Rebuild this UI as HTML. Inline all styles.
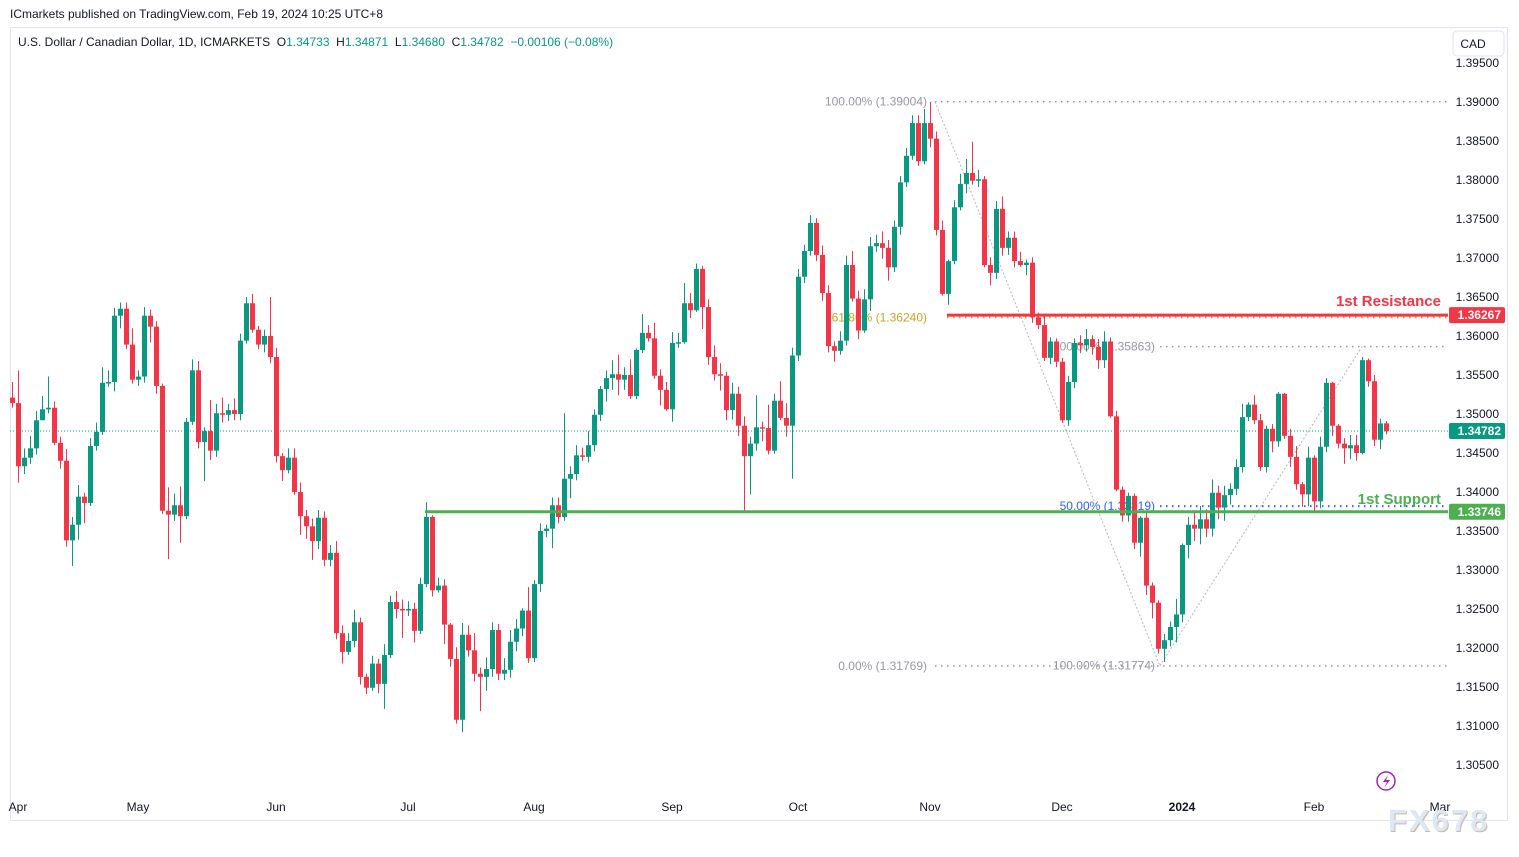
<!DOCTYPE html>
<html><head><meta charset="utf-8">
<style>
html,body{margin:0;padding:0;background:#fff;}
body{width:1519px;height:857px;overflow:hidden;position:relative;font-family:"Liberation Sans",sans-serif;}
#hdr{position:absolute;left:10px;top:7px;font-size:12px;color:#131722;}
#frame{position:absolute;left:10px;top:27px;width:1498px;height:794px;border:1px solid #e0e3eb;box-sizing:border-box;}
svg{position:absolute;left:0;top:0;}
#wm{position:absolute;left:1388px;top:803px;font-size:31px;font-weight:bold;letter-spacing:2px;color:#dce8f5;text-shadow:1px 1px 0 #c8b8a8;}
</style></head>
<body>
<div id="hdr">ICmarkets published on TradingView.com, Feb 19, 2024 10:25 UTC+8</div>
<div id="frame"></div>
<svg id="chart" width="1519" height="857"></svg>
<div id="wm">FX678</div>
<script>
const closes = [
1.3514,1.3433,1.3444,1.3456,1.3492,1.3506,1.3508,1.3463,1.3440,1.3338,
1.3358,1.3394,1.3386,1.3459,1.3477,1.3540,1.3541,1.3626,1.3635,1.3589,
1.3544,1.3548,1.3626,1.3612,1.3536,1.3376,1.3371,1.3383,1.3369,1.3490,
1.3556,1.3464,1.3478,1.3453,1.3501,1.3499,1.3505,1.3500,1.3594,1.3642,
1.3608,1.3589,1.3600,1.3573,1.3446,1.3428,1.3444,1.3400,1.3369,1.3356,
1.3337,1.3367,1.3313,1.3322,1.3219,1.3195,1.3209,1.3233,1.3163,1.3149,
1.3180,1.3154,1.3191,1.3259,1.3250,1.3249,1.3250,1.3222,1.3282,1.3368,
1.3274,1.3280,1.3230,1.3186,1.3108,1.3217,1.3197,1.3167,1.3163,1.3173,
1.3223,1.3167,1.3172,1.3208,1.3225,1.3248,1.3187,1.3282,1.3350,1.3353,
1.3383,1.3368,1.3417,1.3423,1.3447,1.3445,1.3460,1.3499,1.3532,1.3546,
1.3551,1.3544,1.3550,1.3523,1.3582,1.3604,1.3597,1.3549,1.3531,1.3506,
1.3591,1.3592,1.3642,1.3633,1.3686,1.3637,1.3573,1.3551,1.3549,1.3505,
1.3526,1.3485,1.3446,1.3462,1.3483,1.3482,1.3453,1.3517,1.3495,1.3485,
1.3575,1.3676,1.3709,1.3745,1.3704,1.3655,1.3587,1.3581,1.3594,1.3691,
1.3648,1.3607,1.3647,1.3715,1.3719,1.3713,1.3688,1.3740,1.3797,1.3831,
1.3873,1.3824,1.3873,1.3853,1.3736,1.3654,1.3696,1.3765,1.3795,1.3809,
1.3799,1.3801,1.3691,1.3681,1.3763,1.3713,1.3726,1.3696,1.3691,1.3694,
1.3624,1.3614,1.3572,1.3593,1.3567,1.3492,1.3541,1.3591,1.3588,1.3596,
1.3586,1.3569,1.3593,1.3497,1.3403,1.3370,1.3395,1.3335,1.3367,1.3280,
1.3258,1.3199,1.3210,1.3227,1.3243,1.3332,1.3358,1.3353,1.3365,1.3353,
1.3399,1.3380,1.3396,1.3404,1.3432,1.3496,1.3512,1.3492,1.3432,1.3481,
1.3465,1.3526,1.3472,1.3445,1.3410,1.3397,1.3444,1.3388,1.3458,1.3540,
1.3485,1.3462,1.3456,1.3460,1.3450,1.3569,1.3542,1.3467,1.3488,1.3478];
const firstOpen = 1.3521;
const wickHi = [
.0020,.0042,.0012,.0016,.0012,.0017,.0040,.0008,.0008,.0015,
.0010,.0015,.0005,.0010,.0012,.0020,.0015,.0010,.0008,.0008,
.0021,.0008,.0011,.0008,.0007,.0003,.0030,.0015,.0024,.0005,
.0014,.0012,.0005,.0040,.0012,.0020,.0008,.0015,.0009,.0008,
.0012,.0005,.0008,.0050,.0012,.0004,.0012,.0012,.0012,.0008,
.0010,.0010,.0008,.0010,.0015,.0010,.0010,.0016,.0006,.0004,
.0010,.0006,.0014,.0008,.0014,.0012,.0010,.0008,.0008,.0019,
.0002,.0010,.0008,.0002,.0015,.0015,.0012,.0022,.0008,.0015,
.0010,.0008,.0015,.0015,.0012,.0003,.0030,.0005,.0010,.0005,
.0010,.0010,.0084,.0010,.0013,.0010,.0018,.0007,.0004,.0010,
.0018,.0025,.0010,.0020,.0002,.0024,.0010,.0020,.0008,.0010,
.0014,.0012,.0026,.0013,.0007,.0004,.0010,.0015,.0014,.0005,
.0014,.0009,.0012,.0009,.0041,.0007,.0030,.0009,.0025,.0019,
.0010,.0010,.0008,.0010,.0006,.0012,.0010,.0006,.0012,.0012,
.0018,.0010,.0013,.0012,.0011,.0015,.0010,.0008,.0008,.0010,
.0010,.0010,.0018,.0027,.0009,.0012,.0002,.0009,.0013,.0018,
.0040,.0012,.0004,.0010,.0010,.0016,.0008,.0008,.0012,.0004,
.0007,.0006,.0013,.0005,.0004,.0005,.0008,.0006,.0010,.0013,
.0005,.0010,.0013,.0005,.0007,.0004,.0004,.0003,.0002,.0007,
.0004,.0003,.0008,.0007,.0020,.0002,.0010,.0015,.0017,.0013,
.0017,.0009,.0012,.0007,.0010,.0017,.0003,.0012,.0008,.0004,
.0006,.0002,.0001,.0009,.0014,.0003,.0014,.0003,.0013,.0006,
.0001,.0002,.0007,.0013,.0013,.0004,.0002,.0008,.0006,.0003];
const wickLo = [
.0006,.0021,.0010,.0008,.0008,.0000,.0005,.0003,.0010,.0008,
.0033,.0019,.0026,.0004,.0006,.0004,.0005,.0012,.0016,.0006,
.0005,.0008,.0008,.0020,.0010,.0004,.0057,.0008,.0034,.0004,
.0004,.0008,.0050,.0012,.0008,.0010,.0008,.0008,.0008,.0004,
.0004,.0006,.0010,.0008,.0008,.0014,.0004,.0004,.0024,.0016,
.0024,.0010,.0008,.0008,.0008,.0015,.0004,.0008,.0010,.0008,
.0004,.0012,.0032,.0004,.0012,.0036,.0008,.0015,.0004,.0004,
.0008,.0003,.0025,.0010,.0005,.0016,.0008,.0010,.0044,.0018,
.0010,.0008,.0008,.0010,.0012,.0010,.0006,.0005,.0010,.0008,
.0025,.0008,.0005,.0025,.0008,.0005,.0007,.0008,.0008,.0016,
.0015,.0020,.0013,.0004,.0004,.0004,.0004,.0004,.0020,.0002,
.0016,.0006,.0002,.0010,.0002,.0028,.0010,.0008,.0019,.0013,
.0012,.0013,.0070,.0049,.0009,.0017,.0005,.0004,.0003,.0014,
.0068,.0007,.0008,.0006,.0008,.0010,.0008,.0014,.0005,.0006,
.0004,.0011,.0003,.0015,.0007,.0014,.0017,.0006,.0010,.0006,
.0005,.0006,.0004,.0011,.0007,.0002,.0014,.0004,.0004,.0012,
.0005,.0008,.0003,.0016,.0008,.0010,.0009,.0008,.0002,.0013,
.0007,.0005,.0004,.0008,.0007,.0003,.0007,.0008,.0010,.0008,
.0010,.0011,.0010,.0002,.0002,.0008,.0008,.0008,.0018,.0012,
.0020,.0006,.0017,.0008,.0020,.0010,.0017,.0016,.0020,.0011,
.0010,.0015,.0017,.0012,.0008,.0007,.0005,.0005,.0005,.0007,
.0014,.0007,.0004,.0013,.0007,.0016,.0015,.0013,.0009,.0007,
.0013,.0006,.0020,.0014,.0010,.0002,.0007,.0008,.0012,.0004];
const priceTicks = [1.395,1.39,1.385,1.38,1.375,1.37,1.365,1.36,1.355,1.35,1.345,1.34,1.335,1.33,1.325,1.32,1.315,1.31,1.305];
const monthLabels = ["Apr","May","Jun","Jul","Aug","Sep","Oct","Nov","Dec","2024","Feb","Mar"];
const monthStartIdx = [1,21,44,66,87,110,131,153,175,195,217,238];
const fibHigh = 1.39004, fibLow = 1.31769, fib618 = 1.36240;
const swingHigh2 = 1.35863, swingLow2 = 1.31774, fib50 = 1.33819;
const resistance = 1.36267, support = 1.33746, lastPrice = 1.34782;

const NS = "http://www.w3.org/2000/svg";
const svg = document.getElementById('chart');
const y = p => 102 + (1.39 - p) * 7800;
const x = i => 12 + 6 * i;
function el(tag, attrs, parent) {
  const e = document.createElementNS(NS, tag);
  for (const k in attrs) e.setAttribute(k, attrs[k]);
  (parent || svg).appendChild(e);
  return e;
}
function txt(s, attrs) { const t = el('text', attrs); t.textContent = s; return t; }
const F = '"Liberation Sans", sans-serif';
const gray = '#9598a1';

let l = el('line', {x1:10, x2:1448, y1:y(lastPrice), y2:y(lastPrice), stroke:'#089981', 'stroke-width':1, 'stroke-dasharray':'1 2'});



function lab(s, xr, p, col, name) {
  const t = txt(s, {x:xr, y:y(p)+4, 'text-anchor':'end', 'font-size':12, fill:col, 'font-family':F});
  
  
}
lab('100.00% (1.39004)', 927, fibHigh, gray, 'fib-100-label');
lab('61.80% (1.36240)', 927, fib618, '#c9a227', 'fib-618-label');
lab('0.00% (1.31769)', 927, fibLow, gray, 'fib-0-label');
lab('100.00% (1.35863)', 1155, swingHigh2, gray, 'fib2-100-label');
lab('50.00% (1.33819)', 1155, fib50, '#2962ff', 'fib2-50-label');
lab('100.00% (1.31774)', 1155, swingLow2, gray, 'fib2-0-label');

function dl(x1, p, col, name, w) {
  const e = el('line', {x1:x1, x2:1448, y1:y(p), y2:y(p), stroke:col, 'stroke-width':w||1.5, 'stroke-dasharray':'1.5 4.5'});
  
  
}
dl(935, fibHigh, gray, 'fib-100-line');
dl(935, fibLow, gray, 'fib-0-line');
dl(1160, swingHigh2, gray, 'fib2-100-line');
dl(1160, fib50, '#2962ff', 'fib2-50-line', 2);
dl(947, fib618, '#c9a227', 'fib-618-line', 2);

let d1 = el('line', {x1:935, y1:y(fibHigh), x2:1160, y2:y(fibLow), stroke:'#b2b5be', 'stroke-width':1, 'stroke-dasharray':'2 2'});


let d2 = el('line', {x1:1160, y1:y(swingLow2), x2:1362, y2:y(swingHigh2), stroke:'#b2b5be', 'stroke-width':1, 'stroke-dasharray':'2 2'});



let open = firstOpen;
for (let i = 0; i < closes.length; i++) {
  const c = closes[i], o = open;
  const up = c >= o;
  const col = up ? '#089981' : '#f23645';
  const top = Math.max(o, c), bot = Math.min(o, c);
  const g = el('g', {});
  
  
  el('line', {x1:x(i)+0.5, x2:x(i)+0.5, y1:y(top + wickHi[i]), y2:y(bot - wickLo[i]), stroke:col, 'stroke-width':1}, g);
  const h = Math.max(1.5, y(bot) - y(top));
  el('rect', {x:x(i)-2, y:y(top), width:5, height:h, fill:col}, g);
  open = c;
}

let sl = el('line', {x1:425, x2:1448, y1:y(support), y2:y(support), stroke:'#4caf50', 'stroke-width':3});


let rl = el('line', {x1:947, x2:1448, y1:y(resistance), y2:y(resistance), stroke:'#f23645', 'stroke-width':3});


let rt = txt('1st Resistance', {x:1441, y:y(resistance)-9, 'text-anchor':'end', 'font-size':15, 'font-weight':'bold', fill:'#f23645', 'font-family':F});


let st = txt('1st Support', {x:1441, y:y(support)-8, 'text-anchor':'end', 'font-size':15, 'font-weight':'bold', fill:'#4caf50', 'font-family':F});



priceTicks.forEach(p => {
  const t = txt(p.toFixed(5), {x:1499, y:y(p)+4, 'text-anchor':'end', 'font-size':12, fill:'#131722', 'font-family':F});
  
  
});
function tag(p, col, name) {
  const g = el('g', {});
  
  
  el('rect', {x:1449, y:y(p)-8, width:56, height:16, rx:2, fill:col}, g);
  const t = el('text', {x:1501, y:y(p)+4, 'text-anchor':'end', 'font-size':12, 'font-weight':'bold', fill:'#fff', 'font-family':F}, g);
  t.textContent = p.toFixed(5);
}
tag(resistance, '#f23645', 'resistance-price-tag');
tag(support, '#4caf50', 'support-price-tag');
tag(lastPrice, '#089981', 'last-price-tag');

monthLabels.forEach((m, k) => {
  const t = txt(m, {x:x(monthStartIdx[k]), y:811, 'text-anchor':'middle', 'font-size':12, fill:'#131722', 'font-weight': m==='2024'?'bold':'normal', 'font-family':F});
  
  
});

const leg = txt('', {x:18, y:46, 'font-size':12, fill:'#131722', 'font-family':F});


[['U.S. Dollar / Canadian Dollar, 1D, ICMARKETS  ','#131722'],['O','#131722'],['1.34733  ','#089981'],['H','#131722'],['1.34871  ','#089981'],['L','#131722'],['1.34680  ','#089981'],['C','#131722'],['1.34782  −0.00106 (−0.08%)','#089981']].forEach(s => {
  const ts = el('tspan', {fill:s[1]}, leg); ts.textContent = s[0];
});
leg.setAttribute('style','white-space:pre');

const cb = el('g', {});


el('rect', {x:1453, y:31, width:51, height:25, rx:4, fill:'#fff', stroke:'#e0e3eb'}, cb);
const ct = el('text', {x:1473, y:48, 'text-anchor':'middle', 'font-size':12, fill:'#131722', 'font-family':F}, cb);
ct.textContent = 'CAD';

const li = el('g', {});


el('circle', {cx:1386, cy:781, r:9, fill:'none', stroke:'#9c27b0', 'stroke-width':1.5}, li);
el('path', {d:'M1388 775 L1383 782 L1387 782 L1384 788 L1390 780 L1386 780 Z', fill:'#9c27b0'}, li);
</script>
</body></html>
